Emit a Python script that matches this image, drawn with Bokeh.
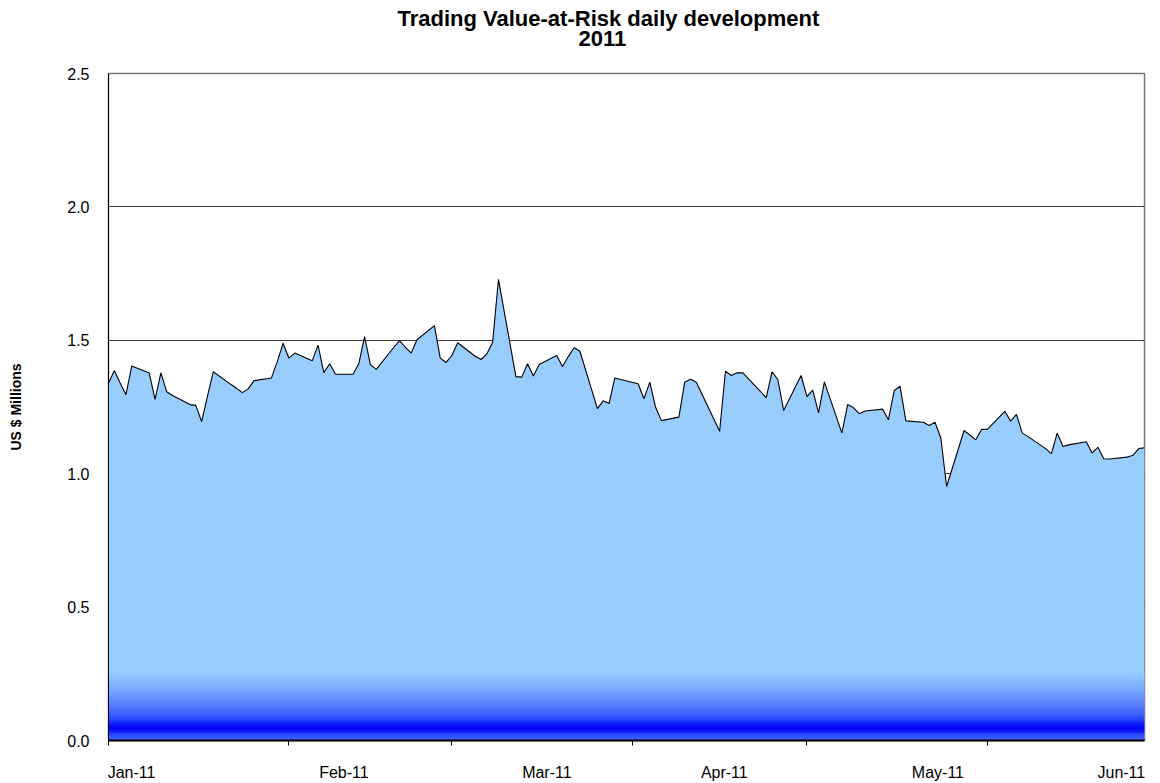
import pandas as pd
from bokeh.plotting import figure
from bokeh.models import (Range1d, FixedTicker, NumeralTickFormatter,
                          CustomJSTickFormatter, Title)
from bokeh.embed import file_html
from bokeh.resources import INLINE

# ---------------- data ----------------
dates = pd.bdate_range("2011-01-03", "2011-06-30")   # trading days
var_values = [
    1.339, 1.387, 1.340, 1.296, 1.404,
    1.377, 1.279, 1.378, 1.307, 1.293,
    1.259, 1.256, 1.195, 1.290, 1.382,
    1.335, 1.320, 1.304, 1.318, 1.349,
    1.359, 1.420, 1.489, 1.433, 1.452,
    1.423, 1.482, 1.379, 1.412, 1.373,
    1.373, 1.412, 1.514, 1.409, 1.391,
    1.473, 1.499, 1.474, 1.452, 1.502,
    1.555, 1.433, 1.417, 1.443, 1.491,
    1.440, 1.428, 1.449, 1.493, 1.728,
    1.364, 1.362, 1.412, 1.366, 1.409,
    1.443, 1.402, 1.439, 1.472, 1.459,
    1.244, 1.273, 1.263, 1.359, 1.353,
    1.337, 1.281, 1.343, 1.249, 1.199,
    1.212, 1.343, 1.354, 1.343, 1.297,
    1.159, 1.384, 1.368, 1.378, 1.378,
    1.309, 1.284, 1.382, 1.353, 1.237,
    1.368, 1.289, 1.313, 1.228, 1.344,
    1.153, 1.259, 1.247, 1.225, 1.235,
    1.242, 1.202, 1.312, 1.328, 1.198,
    1.193, 1.181, 1.193, 1.135, 0.952,
    1.162, 1.145, 1.127, 1.166, 1.166,
    1.234, 1.197, 1.222, 1.152, 1.139,
    1.094, 1.075, 1.152, 1.102, 1.108,
    1.120, 1.078, 1.099, 1.056, 1.055,
    1.062, 1.069, 1.094, 1.097,
]
tick_dates = ["2011-01-03", "2011-02-03", "2011-03-03",
              "2011-04-03", "2011-05-03", "2011-06-03"]
month_labels = ["Jan-11", "Feb-11", "Mar-11", "Apr-11", "May-11", "Jun-11"]
y_ticks = [0.0, 0.5, 1.0, 1.5, 2.0, 2.5]

# ---------------- layout / style ----------------
FRAME_W, FRAME_H = 1036, 667
Y_MAX = 2.5
label_dx = [23, 55, 95, 92, 131, 134]      # px offsets of month labels from ticks
FONT = "Liberation Sans"
grad_stops = [(0.000, (0x40, 0x60, 0xff)), (0.020, (0x30, 0x50, 0xff)),
              (0.035, (0x0a, 0x1c, 0xf8)), (0.045, (0x00, 0x00, 0xf0)),
              (0.060, (0x0a, 0x18, 0xff)), (0.085, (0x30, 0x50, 0xff)),
              (0.125, (0x55, 0x77, 0xff)), (0.190, (0x7a, 0xa8, 0xff)),
              (0.260, (0x99, 0xcc, 0xff))]

p = figure(frame_width=FRAME_W, frame_height=FRAME_H,
           x_axis_type="datetime", output_backend="svg",
           toolbar_location=None, min_border_left=108, min_border_right=8,
           min_border_top=73, min_border_bottom=43,
           x_range=Range1d(dates[0], dates[-1]), y_range=Range1d(0, Y_MAX),
           background_fill_color="white", border_fill_color="white")

# titles: main line on top, "2011" below it (bottom padding keeps it off the frame)
p.title.text = "Trading Value-at-Risk daily development"
p.title.text_font = FONT
p.title.text_font_size = "22px"
p.title.text_color = "black"
p.title.align = "left"
p.title.offset = 289
p.title.standoff = 0
p.add_layout(Title(text="2011", text_font=FONT, text_font_size="22px",
                   text_color="black", align="left", offset=470,
                   standoff=0, vertical_align="top",
                   padding=dict(top=0, right=0, bottom=26, left=0)), "above")

# area fill
p.varea(x=dates, y1=0, y2=var_values, fill_color="#99ccff", fill_alpha=1.0)

# gradient near the base of the area
def interp(v):
    for (v0, c0), (v1, c1) in zip(grad_stops[:-1], grad_stops[1:]):
        if v0 <= v <= v1:
            t = (v - v0) / (v1 - v0)
            return "#%02x%02x%02x" % tuple(int(round(a + (b - a) * t)) for a, b in zip(c0, c1))
    return "#%02x%02x%02x" % grad_stops[-1][1]

step = 0.004
nb = int(grad_stops[-1][0] / step)
bottoms = [i * step for i in range(nb)]
tops = [b + step * 1.6 for b in bottoms]
cols = [interp(b + step / 2) for b in bottoms]
p.quad(left=[dates[0]] * nb, right=[dates[-1]] * nb, bottom=bottoms, top=tops,
       fill_color=cols, line_color=None)

# outline line
p.line(dates, var_values, line_color="black", line_width=1.1)

# x axis: minor ticks at month marks, labelled "major" ticks at label spots
tick_ms = [int(v) for v in pd.to_datetime(tick_dates).astype("int64") // 10**6]
x0_ms = int(dates[0].value // 10**6)
x1_ms = int(dates[-1].value // 10**6)
ms_per_px = (x1_ms - x0_ms) / FRAME_W
label_ms = [int(t + dx * ms_per_px) for t, dx in zip(tick_ms, label_dx)]
xax = p.below[0]
xax.ticker = FixedTicker(ticks=label_ms, minor_ticks=tick_ms)
xax.formatter = CustomJSTickFormatter(args=dict(labels=month_labels),
                                      code="return labels[index] || ''")
xax.major_label_text_font = FONT
xax.major_label_text_font_size = "16px"
xax.major_label_text_color = "black"
xax.major_label_standoff = 18
xax.axis_line_color = "black"
xax.axis_line_width = 2
xax.major_tick_out = 0
xax.major_tick_in = 0
xax.major_tick_line_color = None
xax.minor_tick_out = 5
xax.minor_tick_in = 0
xax.minor_tick_line_color = "black"
xax.minor_tick_line_width = 1

p.yaxis.ticker = FixedTicker(ticks=y_ticks)
p.yaxis.formatter = NumeralTickFormatter(format="0.0")
p.yaxis.major_label_text_font = FONT
p.yaxis.major_label_text_font_size = "16px"
p.yaxis.major_label_text_color = "black"
p.yaxis.major_label_standoff = 19
p.yaxis.major_tick_out = 0
p.yaxis.major_tick_in = 0
p.yaxis.minor_tick_line_color = None
p.yaxis.axis_line_color = "black"
p.yaxis.axis_line_width = 1
p.yaxis.axis_label = "US $ Millions"
p.yaxis.axis_label_text_font = FONT
p.yaxis.axis_label_text_font_size = "14px"
p.yaxis.axis_label_text_font_style = "bold"
p.yaxis.axis_label_text_color = "black"
p.yaxis.axis_label_standoff = 40

p.xgrid.grid_line_color = None
p.ygrid.grid_line_color = "#404040"
p.ygrid.grid_line_width = 1

p.outline_line_color = "#777777"
p.outline_line_width = 1.5

open("out.html", "w").write(file_html(p, INLINE))
